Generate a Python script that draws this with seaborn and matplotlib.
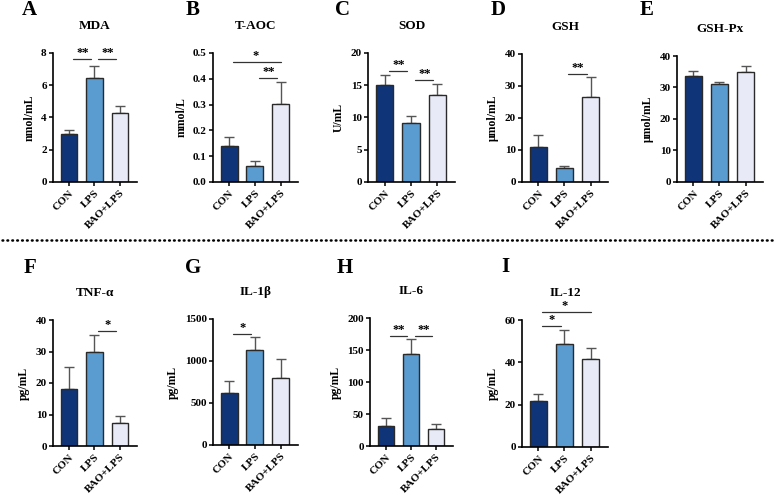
import numpy as np
import pandas as pd
import seaborn as sns
import matplotlib
matplotlib.use("Agg")
import matplotlib.pyplot as plt
from matplotlib.lines import Line2D

sns.set_theme(style="ticks")
plt.rcParams['font.family'] = ['Liberation Serif', 'DejaVu Serif']
plt.rcParams['font.weight'] = 'bold'
plt.rcParams['text.color'] = 'black'
plt.rcParams['axes.labelcolor'] = 'black'
plt.rcParams['xtick.color'] = 'black'
plt.rcParams['ytick.color'] = 'black'

groups = ["CON", "LPS", "BAO+LPS"]
colors = ["#0f3478", "#5a9bd0", "#e8ebf7"]

panels = ["A", "B", "C", "D", "E", "F", "G", "H", "I"]
titles = ["MDA", "T-AOC", "SOD", "GSH", "GSH-Px", "TNF-α", "IL-1β", "IL-6", "IL-12"]
ylabels = ["nmol/mL", "mmol/L", "U/mL", "μmol/mL", "μmol/mL", "pg/mL", "pg/mL", "pg/mL", "pg/mL"]

mda = [3.0, 6.45, 4.3]
mda_sd = [0.22, 0.75, 0.42]
taoc = [0.140, 0.063, 0.303]
taoc_sd = [0.035, 0.019, 0.085]
sod = [15.0, 9.1, 13.5]
sod_sd = [1.6, 1.2, 1.7]
gsh = [11.0, 4.3, 26.5]
gsh_sd = [3.8, 0.7, 6.2]
gshpx = [33.6, 31.0, 34.8]
gshpx_sd = [1.6, 0.8, 1.9]
tnf = [18.2, 29.7, 7.2]
tnf_sd = [6.9, 5.6, 2.3]
il1b = [620, 1130, 800]
il1b_sd = [140, 150, 225]
il6 = [32, 143, 27]
il6_sd = [11, 24, 8]
il12 = [21.8, 48.5, 41.5]
il12_sd = [3.2, 7.0, 5.5]

means = [mda, taoc, sod, gsh, gshpx, tnf, il1b, il6, il12]
sds = [mda_sd, taoc_sd, sod_sd, gsh_sd, gshpx_sd, tnf_sd, il1b_sd, il6_sd, il12_sd]
ymaxs = [8, 0.5, 20, 40, 40, 40, 1500, 200, 60]
ysteps = [2, 0.1, 5, 10, 10, 10, 500, 50, 20]
ydec = [0, 1, 0, 0, 0, 0, 0, 0, 0]

# significance brackets: (i, j, height, label)
sigs = [
    [(0, 1, 7.6, "**"), (1, 2, 7.6, "**")],
    [(0, 2, 0.465, "*"), (1, 2, 0.404, "**")],
    [(0, 1, 17.2, "**"), (1, 2, 15.8, "**")],
    [(1, 2, 33.8, "**")],
    [],
    [(1, 2, 36.5, "*")],
    [(0, 1, 1320, "*")],
    [(0, 1, 172, "**"), (1, 2, 172, "**")],
    [(0, 1, 57.2, "*"), (0, 2, 63.8, "*")],
]

W, H = 777, 495
fig = plt.figure(figsize=(W / 100, H / 100), dpi=100)

# axes rects in pixels: x0, x1, ytop, ybot
rects = [
    (53, 137, 53, 182), (213, 298, 53, 182), (368, 455, 53, 182),
    (522, 608, 54, 182), (677, 763, 56, 182),
    (53, 137, 320, 446), (213, 298, 319, 445), (370, 453, 318, 446),
    (522, 608, 320, 447),
]
letter_pos = [(29, 10), (193, 10), (343, 10), (498, 10), (647, 10),
              (30, 268), (193, 268), (345, 268), (505, 267)]

for k in range(9):
    x0, x1, yt, yb = rects[k]
    ax = fig.add_axes([x0 / W, 1 - yb / H, (x1 - x0) / W, (yb - yt) / H])
    df = pd.DataFrame({"group": groups, "value": means[k]})
    sns.barplot(data=df, x="group", y="value", hue="group", palette=colors,
                order=groups, hue_order=groups, width=0.66, errorbar=None,
                saturation=1, edgecolor="#2a2a2a", linewidth=1.0, legend=False,
                ax=ax)
    xs = np.arange(3)
    ax.errorbar(xs, means[k], yerr=[np.zeros(3), sds[k]], fmt="none",
                ecolor="#555555", elinewidth=1.0, capsize=3.5, capthick=1.0,
                zorder=1)
    for p in ax.patches:
        p.set_zorder(2)
    ax.set_xlim(-0.63, 2.67)
    ax.set_ylim(0, ymaxs[k])
    ticks = np.arange(0, ymaxs[k] + ysteps[k] / 2, ysteps[k])
    ax.set_yticks(ticks)
    ax.set_yticklabels([f"{t:.{ydec[k]}f}" for t in ticks], fontsize=8,
                       fontweight="bold")
    ax.set_xticks(xs)
    ax.set_xticklabels(groups, rotation=45, ha="right", rotation_mode="anchor",
                       fontsize=8, fontweight="bold")
    ax.set_xlabel("")
    ax.set_ylabel(ylabels[k], fontsize=8.5, fontweight="bold", labelpad=4)
    ax.set_title(titles[k], fontsize=9.5, fontweight="bold", pad=17)
    sns.despine(ax=ax)
    for s in ["left", "bottom"]:
        ax.spines[s].set_linewidth(1.2)
        ax.spines[s].set_color("black")
    ax.tick_params(axis="both", length=3, width=1.1, color="black", pad=1.5)
    for (i, j, h, lab) in sigs[k]:
        ax.plot([i + 0.15, j - 0.15 if j - i == 1 else j], [h, h], color="#333333",
                lw=0.9, clip_on=False)
        ax.text((i + j) / 2 + 0.02, h, lab, ha="center", va="bottom",
                fontsize=9, fontweight="bold", clip_on=False)
    lx, ly = letter_pos[k]
    fig.text(lx / W, 1 - ly / H, panels[k], fontsize=15, fontweight="bold",
             ha="center", va="center")

# dotted separator
fig.add_artist(Line2D([0.002, 0.998], [1 - 240 / H, 1 - 240 / H],
                      transform=fig.transFigure, color="black", lw=1.8,
                      linestyle=(0, (0.3, 1.66)), dash_capstyle="round"))

fig.savefig("out.png", dpi=100)
